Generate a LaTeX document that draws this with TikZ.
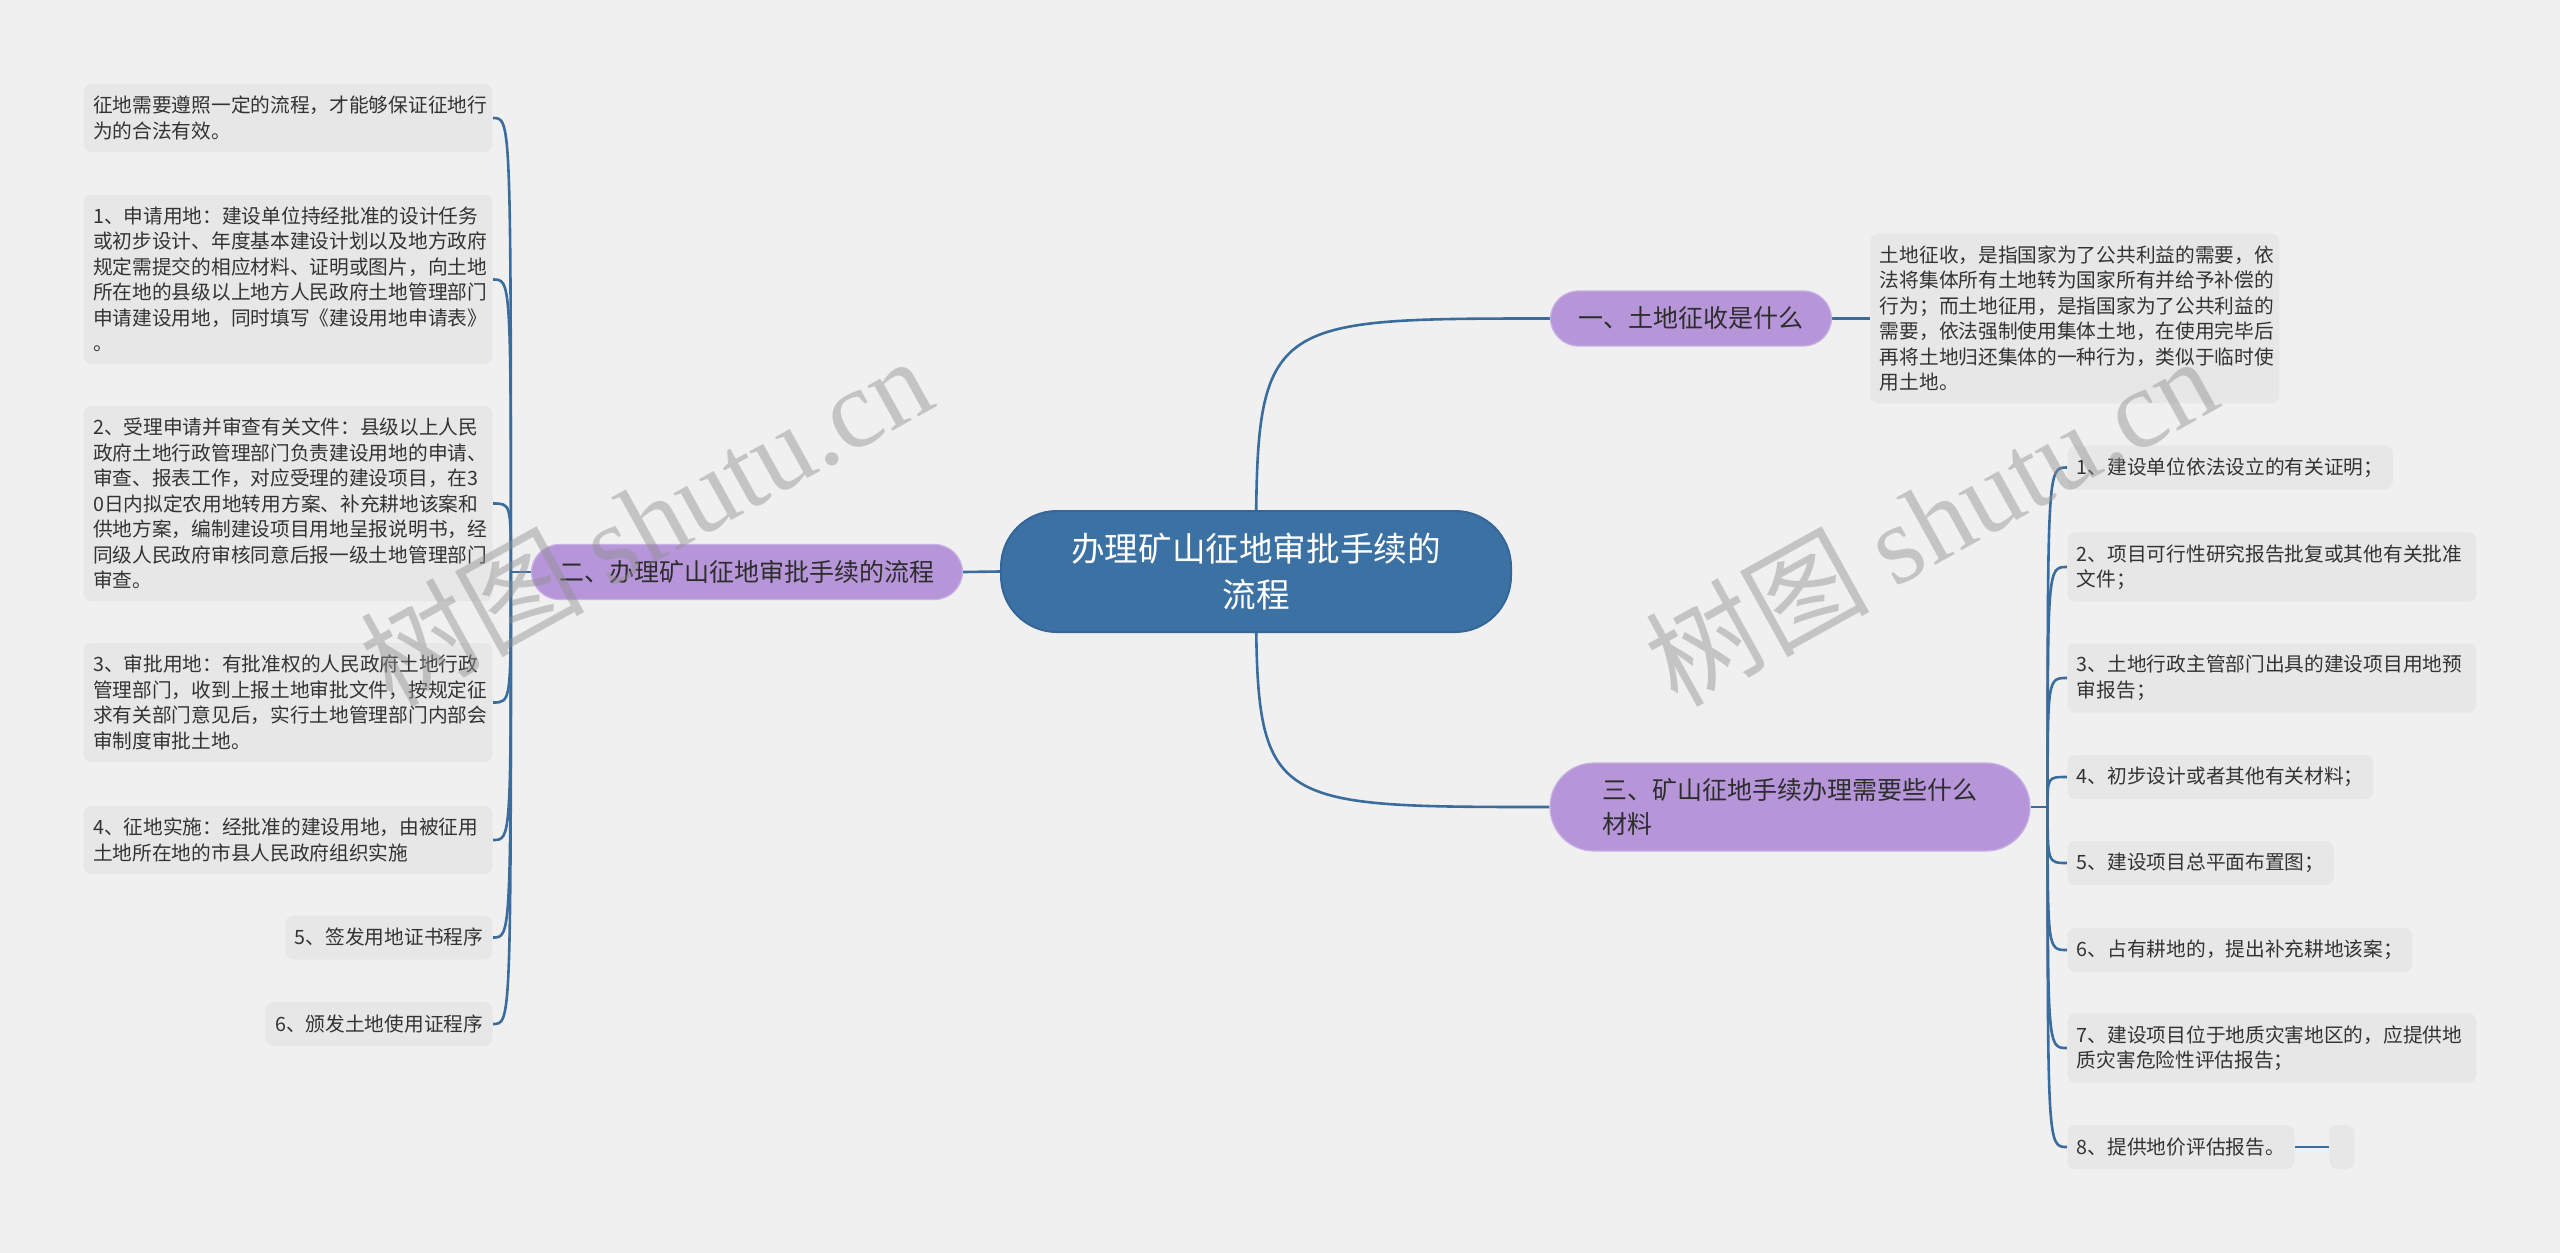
\documentclass[tikz,border=0pt]{standalone}
\usepackage{fontspec}
\setmainfont{Noto Sans CJK SC}
\newfontfamily\wmserif{Liberation Serif}
\usetikzlibrary{positioning}

\definecolor{pagebg}{HTML}{F0F0F0}
\definecolor{leaffill}{HTML}{E7E7E7}
\definecolor{leaftext}{HTML}{333333}
\definecolor{branchfill}{HTML}{B696D9}
\definecolor{branchedge}{HTML}{C7B0E4}
\definecolor{branchtext}{HTML}{2D2D2D}
\definecolor{rootfill}{HTML}{3C71A3}
\definecolor{rootedge}{HTML}{34669A}
\definecolor{linkblue}{HTML}{3A6D9D}
\definecolor{wmgray}{HTML}{8F8F8F}

\pgfdeclarelayer{bg}
\pgfdeclarelayer{links}
\pgfsetlayers{bg,links,main}

\begin{document}
\begin{tikzpicture}[x=0.5pt, y=-0.5pt,
  link/.style={draw=linkblue, line width=1.3pt},
  leaf/.style={fill=leaffill, rounded corners=4pt, align=left, text=leaftext,
    inner xsep=4.75pt, inner ysep=6pt, minimum height=22pt,
    font=\fontsize{9.85pt}{12.75pt}\selectfont},
  wide/.style={text width=195pt},
  branch/.style={fill=branchfill, draw=branchedge, line width=0.6pt, rounded corners=14pt,
    minimum height=27.5pt, inner xsep=14pt, text=branchtext,
    font=\fontsize{12.5pt}{17pt}\selectfont},
  root/.style={fill=rootfill, draw=rootedge, line width=1pt, rounded corners=28pt,
    minimum width=255pt, minimum height=60.5pt, align=center, text=white,
    font=\fontsize{16.8pt}{23pt}\selectfont},
  wmark/.style={text=wmgray, text opacity=0.45, font=\fontsize{56pt}{60pt}\selectfont}]

  % page
  \begin{pgfonlayer}{bg}
    \fill[pagebg] (0,0) rectangle (2560,1253);
  \end{pgfonlayer}
  \useasboundingbox (0,0) rectangle (2560,1253);

  % root
  \node[root] (c) at (1256,571.5) {办理矿山征地审批手续的\\流程};

  % branch 1
  \node[branch] (b1) at (1691,318.5) {一、土地征收是什么};
  \node[leaf, wide, anchor=west] (a1) at (1870,318.5)
    {土地征收，是指国家为了公共利益的需要，依\\法将集体所有土地转为国家所有并给予补偿的\\行为；而土地征用，是指国家为了公共利益的\\需要，依法强制使用集体土地，在使用完毕后\\再将土地归还集体的一种行为，类似于临时使\\用土地。};

  % branch 2
  \node[branch] (b2) at (747,572) {二、办理矿山征地审批手续的流程};
  \coordinate (t2) at ([xshift=-10pt]b2.west);
  \node[leaf, wide, anchor=east] (l0) at (493,118)
    {征地需要遵照一定的流程，才能够保证征地行\\为的合法有效。};
  \node[leaf, wide, anchor=east] (l1) at (493,279.5)
    {1、申请用地：建设单位持经批准的设计任务\\或初步设计、年度基本建设计划以及地方政府\\规定需提交的相应材料、证明或图片，向土地\\所在地的县级以上地方人民政府土地管理部门\\申请建设用地，同时填写《建设用地申请表》\\。};
  \node[leaf, wide, anchor=east] (l2) at (493,503.5)
    {2、受理申请并审查有关文件：县级以上人民\\政府土地行政管理部门负责建设用地的申请、\\审查、报表工作，对应受理的建设项目，在3\\0日内拟定农用地转用方案、补充耕地该案和\\供地方案，编制建设项目用地呈报说明书，经\\同级人民政府审核同意后报一级土地管理部门\\审查。};
  \node[leaf, wide, anchor=east] (l3) at (493,702.5)
    {3、审批用地：有批准权的人民政府土地行政\\管理部门，收到上报土地审批文件，按规定征\\求有关部门意见后，实行土地管理部门内部会\\审制度审批土地。};
  \node[leaf, wide, anchor=east] (l4) at (493,840)
    {4、征地实施：经批准的建设用地，由被征用\\土地所在地的市县人民政府组织实施};
  \node[leaf, anchor=east] (l5) at (493,937.5) {5、签发用地证书程序};
  \node[leaf, anchor=east] (l6) at (493,1024) {6、颁发土地使用证程序};

  % branch 3
  \node[branch, text width=188pt, align=left, minimum width=240pt, minimum height=44pt,
    rounded corners=22pt] (b3) at (1790,807) {三、矿山征地手续办理需要些什么\\材料};
  \coordinate (t3) at ([xshift=8.5pt]b3.east);
  \node[leaf, anchor=west] (r1) at (2067,467.5) {1、建设单位依法设立的有关证明；};
  \node[leaf, wide, anchor=west] (r2) at (2067,567)
    {2、项目可行性研究报告批复或其他有关批准\\文件；};
  \node[leaf, wide, anchor=west] (r3) at (2067,678)
    {3、土地行政主管部门出具的建设项目用地预\\审报告；};
  \node[leaf, anchor=west] (r4) at (2067,777) {4、初步设计或者其他有关材料；};
  \node[leaf, anchor=west] (r5) at (2067,863) {5、建设项目总平面布置图；};
  \node[leaf, anchor=west] (r6) at (2067,950) {6、占有耕地的，提出补充耕地该案；};
  \node[leaf, wide, anchor=west] (r7) at (2067,1048)
    {7、建设项目位于地质灾害地区的，应提供地\\质灾害危险性评估报告；};
  \node[leaf, anchor=west] (r8) at (2067,1147) {8、提供地价评估报告。};
  \node[leaf, anchor=west, minimum width=12.5pt, inner xsep=0pt] (r8x) at (2329,1147) {};

  % connectors
  \begin{pgfonlayer}{links}
    \draw[link] (c.center) .. controls (c.center |- b1.west) .. (b1.west);
    \draw[link] (c.center) .. controls (c.center |- b3.west) .. (b3.west);
    \draw[link] (c.west) -- (b2.east);
    \draw[link] (b1.east) -- (a1.west);
    \draw[link] (b2.west) -- (t2);
    \foreach \k in {l0,l1,l2,l3,l4,l5,l6}
      \draw[link] (t2) .. controls (t2 |- \k.east) .. (\k.east);
    \draw[link] (b3.east) -- (t3);
    \foreach \k in {r1,r2,r3,r4,r5,r6,r7,r8}
      \draw[link] (t3) .. controls (t3 |- \k.west) .. (\k.west);
    \draw[link] (r8.east) -- (r8x.west);
  \end{pgfonlayer}

  % watermarks
  \node[wmark, rotate=29] (wm1) at (645,520) {树图 {\wmserif shutu.cn}};
  \node[wmark, rotate=29] (wm2) at (1930,520) {树图 {\wmserif shutu.cn}};
\end{tikzpicture}
\end{document}
